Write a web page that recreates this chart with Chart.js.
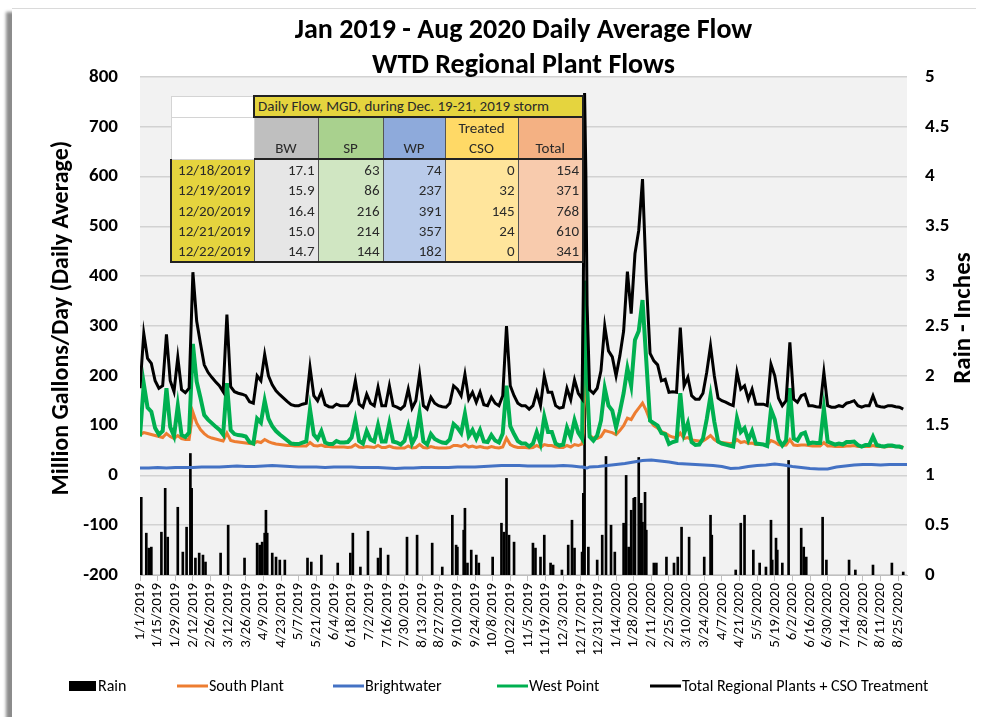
<!DOCTYPE html>
<html>
<head>
<meta charset="utf-8">
<script src="https://cdn.jsdelivr.net/npm/chart.js@4.4.1/dist/chart.umd.min.js"></script>
<style>
  html, body { margin: 0; padding: 0; background: #fff; }
  #card { position: absolute; left: 12px; top: 8px; width: 964px; height: 709px; background: #fff;
          border-top: 1px solid #dadada; box-shadow: -7px 3px 3px -1px #8c8c8c; }
  #wrap { position: absolute; left: 0; top: 0; width: 981px; height: 717px; }
  #storm { position: absolute; left: 170px; top: 95px; border-collapse: collapse; table-layout: fixed;
           font-family: Carlito, Lato, sans-serif; font-size: 15px; color: #2a2a2a; }
  #storm td, #storm th { padding: 0 3px; box-sizing: border-box; white-space: nowrap; overflow: hidden; }
  #storm .blank { background: #fff; border: 1px solid #d4d4d4; }
  #storm .cap { background: #e5d43e; border: 2px solid #222; text-align: left; font-size: 15px; height: 21px; line-height: 19px; }
  #storm th { font-weight: normal; vertical-align: bottom; text-align: center; line-height: 20px; height: 42px;
              border-left: 1px solid #555; border-bottom: 2px solid #222; }
  #storm td.v { text-align: right; border-left: 1px solid #555; height: 20.4px; line-height: 20px; }
  #storm td.date { background: #e5d43e; text-align: right; border-left: 2px solid #222; height: 20.4px; line-height: 20px; }
  #storm tr:last-child td { border-bottom: 2px solid #222; }
  #storm td:last-child, #storm th:last-child { border-right: 2px solid #222; }
</style>
</head>
<body>
<div id="card"></div>
<div id="wrap"><canvas id="flowChart" width="981" height="717"></canvas></div>
<table id="storm"></table>
<script>
// ---- data ----
// day 0 = 1/1/2019
const DAY_STEP = 3;      // flow series sampled every 3 days
const BW_STEP = 7;       // brightwater sampled weekly
const TICK_STEP = 14;

const TICK_LABELS = ['1/1/2019','1/15/2019','1/29/2019','2/12/2019','2/26/2019','3/12/2019','3/26/2019','4/9/2019',
  '4/23/2019','5/7/2019','5/21/2019','6/4/2019','6/18/2019','7/2/2019','7/16/2019','7/30/2019','8/13/2019',
  '8/27/2019','9/10/2019','9/24/2019','10/8/2019','10/22/2019','11/5/2019','11/19/2019','12/3/2019',
  '12/17/2019','12/31/2019','1/14/2020','1/28/2020','2/11/2020','2/25/2020','3/10/2020','3/24/2020',
  '4/7/2020','4/21/2020','5/5/2020','5/19/2020','6/2/2020','6/16/2020','6/30/2020','7/14/2020',
  '7/28/2020','8/11/2020','8/25/2020'];

const TOTAL_FLOW = [
  175, 285, 235, 225, 190, 175, 180, 283, 190, 168,
  237, 172, 166, 175, 408, 310, 265, 222, 207, 197,
  188, 180, 168, 323, 178, 168, 165, 163, 160, 148,
  145, 200, 190, 243, 200, 182, 170, 162, 155, 148,
  142, 140, 140, 143, 145, 217, 160, 150, 168, 142,
  138, 137, 143, 140, 140, 140, 150, 190, 143, 137,
  163, 145, 140, 177, 140, 140, 180, 140, 137, 133,
  140, 173, 135, 150, 203, 140, 133, 157, 145, 140,
  138, 137, 145, 180, 173, 160, 203, 153, 167, 147,
  167, 142, 140, 157, 145, 140, 160, 300, 180, 160,
  145, 140, 140, 133, 140, 167, 140, 200, 167, 167,
  140, 135, 137, 175, 152, 192, 165, 154, 610, 172,
  165, 175, 210, 300, 250, 238, 200, 240, 290, 409,
  325, 445, 492, 595, 392, 245, 230, 222, 190, 193,
  167, 168, 167, 297, 180, 197, 160, 153, 153, 165,
  207, 260, 200, 155, 150, 147, 143, 140, 207, 173,
  180, 153, 173, 143, 143, 143, 140, 223, 200, 155,
  140, 150, 267, 153, 147, 160, 163, 140, 140, 138,
  137, 207, 140, 137, 137, 140, 138, 145, 147, 150,
  140, 137, 140, 140, 160, 140, 138, 137, 140, 140,
  138, 137, 133];

const WEST_POINT = [
  78, 184, 136, 128, 95, 82, 89, 175, 97, 79,
  140, 81, 77, 86, 264, 188, 156, 121, 112, 105,
  98, 92, 82, 185, 91, 83, 81, 80, 78, 67,
  64, 114, 106, 150, 114, 99, 89, 82, 76, 70,
  64, 63, 63, 66, 68, 133, 82, 73, 89, 66,
  63, 63, 69, 66, 66, 67, 76, 111, 69, 64,
  89, 72, 68, 101, 68, 68, 105, 68, 66, 62,
  69, 98, 64, 78, 125, 68, 62, 83, 73, 69,
  66, 65, 72, 103, 96, 85, 124, 79, 91, 74,
  91, 68, 67, 81, 70, 66, 84, 180, 99, 83,
  69, 64, 64, 58, 64, 87, 64, 118, 87, 87,
  64, 60, 62, 96, 76, 111, 86, 74, 357, 78,
  70, 80, 110, 175, 140, 130, 96, 128, 165, 215,
  180, 272, 290, 352, 230, 110, 105, 100, 85, 83,
  63, 67, 69, 165, 84, 105, 67, 61, 62, 74,
  113, 160, 108, 68, 64, 62, 60, 58, 115, 87,
  95, 71, 89, 64, 63, 62, 59, 132, 112, 72,
  60, 70, 175, 74, 70, 83, 86, 64, 66, 65,
  65, 135, 68, 65, 62, 64, 62, 67, 67, 68,
  61, 58, 61, 61, 78, 61, 59, 58, 60, 60,
  58, 58, 55];

const SOUTH_PLANT = [
  82, 86, 84, 82, 80, 78, 76, 84, 78, 74,
  80, 74, 72, 72, 127, 105, 92, 84, 78, 75,
  73, 71, 69, 85, 70, 68, 67, 66, 65, 64,
  63, 68, 66, 72, 68, 65, 63, 62, 61, 60,
  60, 59, 59, 59, 59, 66, 60, 59, 61, 58,
  58, 57, 57, 57, 57, 56, 57, 62, 57, 56,
  58, 57, 56, 60, 56, 56, 59, 56, 55, 55,
  55, 59, 55, 56, 62, 56, 55, 58, 56, 55,
  55, 55, 56, 60, 60, 58, 62, 57, 59, 56,
  58, 56, 55, 58, 56, 55, 57, 75, 62, 58,
  56, 56, 56, 55, 56, 60, 56, 62, 60, 60,
  57, 56, 56, 60, 57, 62, 60, 63, 214, 80,
  75, 74, 78, 90, 88, 86, 82, 90, 100, 115,
  112, 125, 135, 145, 130, 110, 100, 95, 88, 85,
  80, 77, 75, 85, 74, 76, 71, 70, 69, 69,
  74, 80, 72, 67, 66, 65, 64, 64, 72, 66,
  68, 64, 65, 62, 62, 62, 61, 70, 67, 62,
  60, 61, 72, 61, 60, 61, 61, 60, 59, 59,
  59, 66, 59, 59, 58, 58, 58, 59, 59, 60,
  58, 58, 58, 58, 60, 58, 58, 57, 58, 58,
  58, 57, 57];

const BRIGHTWATER = [
  15, 15, 16, 15, 16, 16, 16, 17, 17, 17,
  18, 19, 18, 18, 19, 20, 19, 18, 17, 17,
  17, 16, 17, 17, 17, 16, 16, 16, 15, 14,
  15, 15, 16, 16, 16, 16, 17, 17, 17, 18,
  19, 20, 20, 20, 19, 19, 19, 19, 20, 19,
  17, 17, 18, 20, 22, 24, 27, 30, 31, 29,
  27, 24, 23, 22, 21, 20, 18, 14, 15, 18,
  20, 21, 23, 21, 18, 16, 14, 13, 13, 17,
  19, 21, 22, 22, 21, 22, 22, 22];

const RAIN_DAYS = [1,5,7,9,17,20,22,30,34,37,40,41,44,47,50,52,64,70,83,93,95,97,99,100,101,105,108,111,115,
  133,136,144,157,167,169,175,181,189,191,197,212,220,232,240,248,251,252,257,258,260,263,267,269,280,287,
  289,291,293,297,312,314,318,321,326,328,335,340,343,345,351,352,353,356,363,367,370,374,377,384,386,388,
  390,392,393,396,398,399,401,402,408,410,418,424,427,430,436,448,453,454,473,477,480,487,492,497,501,502,
  505,506,510,515,525,527,529,542,545,563,568,582,597,606];
const RAIN_INCHES = [0.78,0.42,0.27,0.28,0.43,0.87,0.38,0.68,0.23,0.48,1.22,0.87,0.17,0.22,0.2,0.13,0.22,0.5,
  0.17,0.32,0.3,0.33,0.42,0.65,0.42,0.22,0.18,0.15,0.15,0.17,0.13,0.2,0.12,0.22,0.42,0.08,0.44,0.17,0.27,0.2,
  0.38,0.4,0.32,0.08,0.6,0.3,0.28,0.45,0.67,0.12,0.25,0.2,0.12,0.18,0.52,0.43,0.97,0.4,0.33,0.32,0.27,0.18,
  0.4,0.12,0.1,0.05,0.3,0.55,0.27,0.23,0.82,2.4,0.28,0.15,0.4,1.19,0.5,0.23,0.52,1.0,0.28,0.65,0.77,0.78,
  1.18,0.72,0.53,0.83,0.45,0.12,0.12,0.18,0.12,0.18,0.48,0.38,0.18,0.6,0.4,0.05,0.52,0.6,0.25,0.12,0.08,
  0.55,0.15,0.37,0.25,0.12,1.15,0.47,0.28,0.18,0.58,0.15,0.15,0.05,0.1,0.12,0.03];

// storm table (Dec 18-22, 2019), also used as the daily points of those days
const STORM_DAY0 = 351;
const STORM_CAPTION = 'Daily Flow, MGD, during Dec. 19-21, 2019 storm';
const STORM_HEADERS = ['BW', 'SP', 'WP', 'Treated<br>CSO', 'Total'];
const STORM_DATES = ['12/18/2019', '12/19/2019', '12/20/2019', '12/21/2019', '12/22/2019'];
const STORM_BW = [17.1, 15.9, 16.4, 15.0, 14.7];
const STORM_SP = [63, 86, 216, 214, 144];
const STORM_WP = [74, 237, 391, 357, 182];
const STORM_CSO = [0, 32, 145, 24, 0];
const STORM_TOTAL = [154, 371, 768, 610, 341];

const TITLE_LINES = ['Jan 2019 - Aug 2020 Daily Average Flow', 'WTD Regional Plant Flows'];
const LEFT_TITLE = 'Million Gallons/Day (Daily Average)';
const RIGHT_TITLE = 'Rain - Inches';

// ---- table ----
const HEAD_BG = ['#bfbfbf', '#a9d18e', '#8eaadb', '#ffd966', '#f4b183'];
const CELL_BG = ['#e6e6e6', '#d0e6c2', '#b9cbea', '#ffe59c', '#f8cbad'];
const COL_W = [83, 64, 65, 62, 73, 65];

let html = '<colgroup>' + COL_W.map(w => `<col style="width:${w}px">`).join('') + '</colgroup>';
html += `<tr><td class="blank" style="height:21px"></td><td class="cap" colspan="5">${STORM_CAPTION}</td></tr>`;
html += '<tr><td class="blank"></td>' +
  STORM_HEADERS.map((h, i) => `<th style="background:${HEAD_BG[i]}">${h}</th>`).join('') + '</tr>';
STORM_DATES.forEach((d, r) => {
  const vals = [STORM_BW[r].toFixed(1), STORM_SP[r], STORM_WP[r], STORM_CSO[r], STORM_TOTAL[r]];
  html += `<tr><td class="date">${d}</td>` +
    vals.map((v, i) => `<td class="v" style="background:${CELL_BG[i]}">${v}</td>`).join('') + '</tr>';
});
document.getElementById('storm').innerHTML = html;

// ---- chart ----
function toPoints(values, step, storm) {
  let pts = values.map((v, i) => ({x: i * step, y: v}));
  if (storm) {
    pts = pts.filter(p => p.x < STORM_DAY0 || p.x > STORM_DAY0 + storm.length - 1)
      .concat(storm.map((v, k) => ({x: STORM_DAY0 + k, y: v})))
      .sort((a, b) => a.x - b.x);
  }
  return pts;
}

const FONT = 'Carlito, Lato, sans-serif';
Chart.defaults.font.family = FONT;
Chart.defaults.color = '#000';

const plotBg = {
  id: 'plotBg',
  beforeDraw(chart) {
    const {ctx, chartArea: a} = chart;
    ctx.save();
    ctx.fillStyle = '#f2f2f2';
    ctx.fillRect(a.left, a.top, a.right - a.left, a.bottom - a.top);
    ctx.restore();
  }
};

// rotated axis titles (both read bottom to top, as in the original)
const axisTitles = {
  id: 'axisTitles',
  afterDraw(chart) {
    const ctx = chart.ctx;
    const midY = 318;
    [[LEFT_TITLE, 62, 24], [RIGHT_TITLE, 964, 25]].forEach(([txt, x, size]) => {
      ctx.save();
      ctx.font = 'bold ' + size + 'px ' + FONT;
      ctx.fillStyle = '#000';
      ctx.textAlign = 'center';
      ctx.textBaseline = 'middle';
      ctx.translate(x, midY);
      ctx.rotate(-Math.PI / 2);
      ctx.fillText(txt, 0, 0);
      ctx.restore();
    });
  }
};

// legend row at the bottom, item starts as in the original
const LEGEND_X = [69, 177, 333, 497, 650];
const LEGEND_Y = 686;
const bottomLegend = {
  id: 'bottomLegend',
  afterDraw(chart) {
    const ctx = chart.ctx;
    ctx.save();
    ctx.font = '16px ' + FONT;
    ctx.fillStyle = '#000';
    ctx.textBaseline = 'middle';
    chart.data.datasets.forEach((ds, i) => {
      const x = LEGEND_X[i];
      let tx;
      if (ds.type === 'bar') {
        ctx.fillStyle = '#000';
        ctx.fillRect(x, LEGEND_Y - 5, 27, 10);
        tx = x + 29;
      } else {
        ctx.strokeStyle = ds.borderColor;
        ctx.lineWidth = 3;
        ctx.beginPath();
        ctx.moveTo(x, LEGEND_Y);
        ctx.lineTo(x + 31, LEGEND_Y);
        ctx.stroke();
        tx = x + 32;
      }
      ctx.fillStyle = '#000';
      ctx.fillText(ds.label, tx, LEGEND_Y + 1);
    });
    ctx.restore();
  }
};

const chart = new Chart(document.getElementById('flowChart'), {
  type: 'line',
  data: {
    datasets: [
      {type: 'bar', label: 'Rain', data: RAIN_DAYS.map((d, i) => ({x: d, y: RAIN_INCHES[i]})),
        yAxisID: 'yR', backgroundColor: '#000', borderWidth: 0, barThickness: 2, order: 5},
      {label: 'South Plant', data: toPoints(SOUTH_PLANT, DAY_STEP, STORM_SP),
        borderColor: '#ed7d31', backgroundColor: '#ed7d31', borderWidth: 3, order: 3},
      {label: 'Brightwater', data: toPoints(BRIGHTWATER, BW_STEP, STORM_BW),
        borderColor: '#4472c4', backgroundColor: '#4472c4', borderWidth: 3, order: 4},
      {label: 'West Point', data: toPoints(WEST_POINT, DAY_STEP, STORM_WP),
        borderColor: '#00b050', backgroundColor: '#00b050', borderWidth: 4, order: 2},
      {label: 'Total Regional Plants + CSO Treatment', data: toPoints(TOTAL_FLOW, DAY_STEP, STORM_TOTAL),
        borderColor: '#000', backgroundColor: '#000', borderWidth: 3, order: 1}
    ]
  },
  options: {
    responsive: false,
    animation: false,
    elements: {point: {radius: 0}, line: {tension: 0}},
    layout: {padding: {left: 14, right: 0, top: 7, bottom: 47}},
    plugins: {
      title: {display: true, text: TITLE_LINES, fullSize: false, color: '#000',
        font: {size: 28, weight: 'bold', lineHeight: 1.25}, padding: {top: 6.5, bottom: -6.5}},
      legend: {display: false},
      tooltip: {enabled: false}
    },
    scales: {
      x: {type: 'linear', min: 0, max: 609, offset: false,
        afterBuildTicks: s => { s.ticks = TICK_LABELS.map((t, i) => ({value: i * TICK_STEP})); },
        afterFit: s => { s.height = 95; },
        ticks: {autoSkip: false, minRotation: 90, maxRotation: 90, padding: 2, font: {size: 15},
          callback: v => TICK_LABELS[Math.round(v / TICK_STEP)]},
        grid: {drawOnChartArea: false, tickLength: 6, color: '#bfbfbf', offset: false},
        border: {color: '#bfbfbf'}},
      y: {position: 'left', min: -200, max: 800,
        afterFit: s => { s.width = 126; },
        ticks: {stepSize: 100, padding: 22, font: {size: 19, weight: 'bold'}},
        grid: {color: '#d2d2d2', lineWidth: 1.5, drawTicks: false},
        border: {display: false}},
      yR: {position: 'right', min: 0, max: 5,
        afterFit: s => { s.width = 74; },
        ticks: {stepSize: 0.5, padding: 18, font: {size: 19, weight: 'bold'}, callback: v => String(v)},
        grid: {display: false, drawTicks: false},
        border: {display: false}}
    }
  },
  plugins: [plotBg, axisTitles, bottomLegend]
});
</script>
</body>
</html>
